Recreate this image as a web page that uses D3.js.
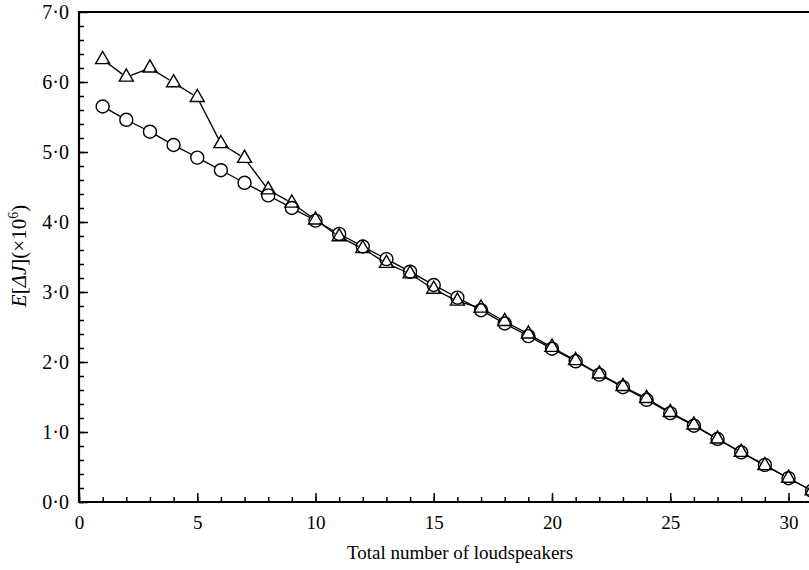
<!DOCTYPE html>
<meta charset="utf-8">
<style>
body { margin: 0; background: #fff; }
text { font-family: "Liberation Serif", "DejaVu Serif", serif; fill: #000; }
.tick line { stroke: #000; stroke-width: 1.5; }
</style>
<svg id="chart" width="809" height="570"></svg>
<script src="https://d3js.org/d3.v7.min.js"></script>
<script>

// number of loudspeakers
var speakers = [1,2,3,4,5,6,7,8,9,10,11,12,13,14,15,16,17,18,19,20,21,22,23,24,25,26,27,28,29,30,31];
// circles
var circleVals = [5.65,5.46,5.29,5.10,4.92,4.74,4.56,4.38,4.20,4.02,3.83,3.65,3.47,3.29,3.10,2.92,2.74,2.55,2.37,2.19,2.01,1.82,1.64,1.46,1.27,1.09,0.90,0.71,0.53,0.34,0.16];
// triangles
var triVals = [6.32,6.07,6.20,5.99,5.78,5.12,4.91,4.46,4.27,4.03,3.79,3.62,3.41,3.26,3.04,2.87,2.77,2.58,2.40,2.21,2.02,1.83,1.65,1.48,1.28,1.10,0.90,0.71,0.52,0.34,0.16];
var xTicks = [0,5,10,15,20,25,30];
var yTicks = [0,1,2,3,4,5,6,7];

var svg = d3.select("#chart");

var x = d3.scaleLinear().domain([0,30]).range([79,788.5]);
var y = d3.scaleLinear().domain([0,7]).range([502,12]);

var fmt = function(d){ return d3.format(".1f")(d).replace(".","\u00b7"); };

// minor ticks
svg.append("g")
  .attr("transform","translate(0,502)")
  .call(d3.axisBottom(x).tickValues(d3.range(0,32)).tickSize(-5).tickFormat(""))
  .call(function(g){ g.select(".domain").remove(); });
svg.append("g")
  .attr("transform","translate(79,0)")
  .call(d3.axisLeft(y).tickValues(d3.range(0,35).map(function(i){return i*0.2;})).tickSize(-5).tickFormat(""))
  .call(function(g){ g.select(".domain").remove(); });

// major ticks + labels
var xAxis = svg.append("g")
  .attr("transform","translate(0,502)")
  .call(d3.axisBottom(x).tickValues(xTicks).tickSize(-9).tickPadding(14).tickFormat(d3.format("d")));
xAxis.select(".domain").remove();
xAxis.selectAll("text").style("font-size","19px");

var yAxis = svg.append("g")
  .attr("transform","translate(79,0)")
  .call(d3.axisLeft(y).tickValues(yTicks).tickSize(-9).tickPadding(10).tickFormat(fmt));
yAxis.select(".domain").remove();
yAxis.selectAll("text").style("font-size","20px");

// frame
svg.append("line").attr("x1",79).attr("x2",79).attr("y1",11).attr("y2",503)
  .attr("stroke","#000").attr("stroke-width",2.2);
svg.append("line").attr("x1",78).attr("x2",809).attr("y1",502).attr("y2",502)
  .attr("stroke","#000").attr("stroke-width",2.2);
svg.append("line").attr("x1",78).attr("x2",809).attr("y1",12).attr("y2",12)
  .attr("stroke","#000").attr("stroke-width",2.2);

// segments between markers, shortened so lines stop at the marker edge
function drawSeries(vals, gap) {
  var pts = speakers.map(function(s,i){ return [x(s), y(vals[i])]; });
  var segs = [];
  for (var i = 0; i < pts.length-1; i++) {
    var a = pts[i], b = pts[i+1];
    var dx = b[0]-a[0], dy = b[1]-a[1], len = Math.sqrt(dx*dx+dy*dy);
    if (len <= 2*gap) continue;
    var ux = dx/len, uy = dy/len;
    segs.push([a[0]+ux*gap, a[1]+uy*gap, b[0]-ux*gap, b[1]-uy*gap]);
  }
  svg.append("g").selectAll("line").data(segs).enter().append("line")
    .attr("x1",function(d){return d[0];}).attr("y1",function(d){return d[1];})
    .attr("x2",function(d){return d[2];}).attr("y2",function(d){return d[3];})
    .attr("stroke","#000").attr("stroke-width",1.3);
}
drawSeries(circleVals, 6.5);
drawSeries(triVals, 5);

svg.append("g").selectAll("circle").data(speakers).enter().append("circle")
  .attr("cx",function(d){return x(d);})
  .attr("cy",function(d,i){return y(circleVals[i]);})
  .attr("r",6.5)
  .attr("fill","none").attr("stroke","#000").attr("stroke-width",1.4);

svg.append("g").selectAll("path").data(speakers).enter().append("path")
  .attr("d", d3.symbol().type(d3.symbolTriangle).size(85))
  .attr("transform",function(d,i){ return "translate(" + x(d) + "," + y(triVals[i]) + ")"; })
  .attr("fill","none").attr("stroke","#000").attr("stroke-width",1.4);

// axis titles
svg.append("text")
  .attr("x",460).attr("y",559)
  .attr("text-anchor","middle")
  .style("font-size","19px")
  .text("Total number of loudspeakers");

var yt = svg.append("text")
  .attr("transform","translate(26,256) rotate(-90)")
  .attr("text-anchor","middle")
  .style("font-size","21px");
yt.append("tspan").style("font-style","italic").text("E");
yt.append("tspan").text("[");
yt.append("tspan").style("font-style","italic").text("\u0394J");
yt.append("tspan").text("](\u00d710");
yt.append("tspan").attr("dy","-8").style("font-size","14px").text("6");
yt.append("tspan").attr("dy","8").text(")");

</script>
